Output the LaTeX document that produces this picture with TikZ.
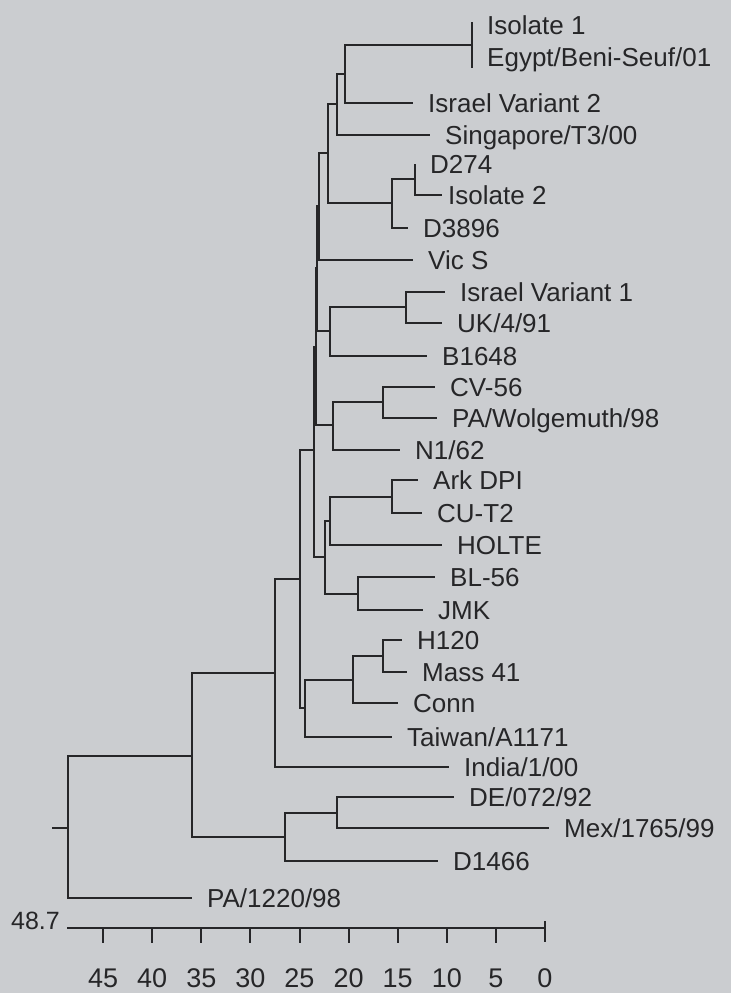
\documentclass[tikz,border=0pt]{standalone}
\usepackage{fontspec}
\setmainfont{Liberation Sans}
\definecolor{paper}{RGB}{203,205,208}
\definecolor{ink}{RGB}{38,38,40}

\begin{document}
\begin{tikzpicture}[x=1pt, y=-1pt,
  branch/.style={draw=ink, line width=2pt},
  leaf/.style={anchor=west, inner xsep=15pt, inner ysep=0pt, text=ink,
    font=\fontsize{26}{30}\selectfont, text height=18.5pt, text depth=0pt},
  scalelbl/.style={inner sep=0pt, text=ink,
    font=\fontsize{27}{30}\selectfont, text height=19pt, text depth=0pt},
]
  \fill[paper] (0,0) rectangle (731,993);
  \useasboundingbox (0,0) rectangle (731,993);

  % taxa
  \node[leaf] (iso1) at (472,25) {Isolate 1};
  \node[leaf] (egypt) at (472,57) {Egypt/Beni-Seuf/01};
  \node[leaf] (iv2) at (413,103) {Israel Variant 2};
  \node[leaf] (sing) at (430,135) {Singapore/T3/00};
  \node[leaf] (d274) at (415,164) {D274};
  \node[leaf, inner xsep=6pt] (iso2) at (442,195) {Isolate 2};
  \node[leaf] (d3896) at (408,228) {D3896};
  \node[leaf] (vics) at (413,260) {Vic S};
  \node[leaf] (iv1) at (445,292) {Israel Variant 1};
  \node[leaf] (uk) at (442,323) {UK/4/91};
  \node[leaf] (b1648) at (427,356) {B1648};
  \node[leaf] (cv56) at (435,387) {CV-56};
  \node[leaf] (wolg) at (437,418) {PA/Wolgemuth/98};
  \node[leaf] (n162) at (400,450) {N1/62};
  \node[leaf] (ark) at (418,480) {Ark DPI};
  \node[leaf] (cut2) at (422,513) {CU-T2};
  \node[leaf] (holte) at (442,545) {HOLTE};
  \node[leaf] (bl56) at (435,577) {BL-56};
  \node[leaf] (jmk) at (423,610) {JMK};
  \node[leaf] (h120) at (402,640) {H120};
  \node[leaf] (mass) at (407,672) {Mass 41};
  \node[leaf] (conn) at (398,703) {Conn};
  \node[leaf] (taiwan) at (392,737) {Taiwan/A1171};
  \node[leaf] (india) at (449,767) {India/1/00};
  \node[leaf] (de) at (454,797) {DE/072/92};
  \node[leaf] (mex) at (549,828) {Mex/1765/99};
  \node[leaf] (d1466) at (438,861) {D1466};
  \node[leaf] (pa1220) at (192,898) {PA/1220/98};

  % internal nodes
  \coordinate (isotop) at (472,22);
  \coordinate (isobot) at (472,68);
  \coordinate (nIso) at (472,45);
  \coordinate (nQ) at (345,74);
  \coordinate (nP) at (337,104);
  \coordinate (nT) at (328,153);
  \coordinate (nD2) at (415,179);
  \coordinate (nD) at (392,203);
  \coordinate (n1) at (319,206);
  \coordinate (nJ2) at (406,307);
  \coordinate (nJ) at (330,331);
  \coordinate (n2) at (317,268);
  \coordinate (nK2) at (383,402);
  \coordinate (nK) at (333,425);
  \coordinate (n3) at (316,347);
  \coordinate (nL2) at (392,497);
  \coordinate (nL) at (330,521);
  \coordinate (nM) at (358,594);
  \coordinate (nF) at (325,557);
  \coordinate (n4) at (314,450);
  \coordinate (nI) at (383,656);
  \coordinate (nH) at (353,680);
  \coordinate (nG) at (305,708);
  \coordinate (nE) at (300,579);
  \coordinate (nIn) at (275,673);
  \coordinate (nC) at (337,813);
  \coordinate (nB) at (285,837);
  \coordinate (nA) at (192,756);
  \coordinate (root) at (68,828);
  \coordinate (stub) at (52,828);

  % branches
  \draw[branch] (stub) -- (root);
  \draw[branch] (root) |- (nA) (root) |- (pa1220.west);
  \draw[branch] (nA) |- (nIn) (nA) |- (nB);
  \draw[branch] (nB) |- (nC) (nB) |- (d1466.west);
  \draw[branch] (nC) |- (de.west) (nC) |- (mex.west);
  \draw[branch] (nIn) |- (nE) (nIn) |- (india.west);
  \draw[branch] (nE) |- (n4) (nE) |- (nG);
  \draw[branch] (nG) |- (nH) (nG) |- (taiwan.west);
  \draw[branch] (nH) |- (nI) (nH) |- (conn.west);
  \draw[branch] (nI) |- (h120.west) (nI) |- (mass.west);
  \draw[branch] (n4) |- (n3) (n4) |- (nF);
  \draw[branch] (nF) |- (nL) (nF) |- (nM);
  \draw[branch] (nM) |- (bl56.west) (nM) |- (jmk.west);
  \draw[branch] (nL) |- (nL2) (nL) |- (holte.west);
  \draw[branch] (nL2) |- (ark.west) (nL2) |- (cut2.west);
  \draw[branch] (n3) |- (n2) (n3) |- (nK);
  \draw[branch] (nK) |- (nK2) (nK) |- (n162.west);
  \draw[branch] (nK2) |- (cv56.west) (nK2) |- (wolg.west);
  \draw[branch] (n2) |- (n1) (n2) |- (nJ);
  \draw[branch] (nJ) |- (nJ2) (nJ) |- (b1648.west);
  \draw[branch] (nJ2) |- (iv1.west) (nJ2) |- (uk.west);
  \draw[branch] (n1) |- (nT) (n1) |- (vics.west);
  \draw[branch] (nT) |- (nP) (nT) |- (nD);
  \draw[branch] (nD) |- (nD2) (nD) |- (d3896.west);
  \draw[branch] (nD2) |- (d274.west) (nD2) |- (iso2.west);
  \draw[branch] (nP) |- (nQ) (nP) |- (sing.west);
  \draw[branch] (nQ) |- (nIso) (nQ) |- (iv2.west);
  \draw[branch] (isotop) -- (isobot);

  % scale
  \coordinate (sL) at (67,928);
  \coordinate (sR) at (545,928);
  \draw[branch, line width=2.6pt] (sL) -- (sR);
  \draw[branch] (545,921) -- (545,942);
  \node[scalelbl] (t0) at (545,978) {0};
  \foreach \d in {5,10,...,45} {
    \draw[branch] (545-9.82*\d,928) -- ++(0,15);
    \node[scalelbl] (t\d) at (545-9.82*\d,978) {\d};
  }
  \node[scalelbl, anchor=east, font=\fontsize{25}{30}\selectfont] (smax) at (60,920) {48.7};
\end{tikzpicture}
\end{document}
